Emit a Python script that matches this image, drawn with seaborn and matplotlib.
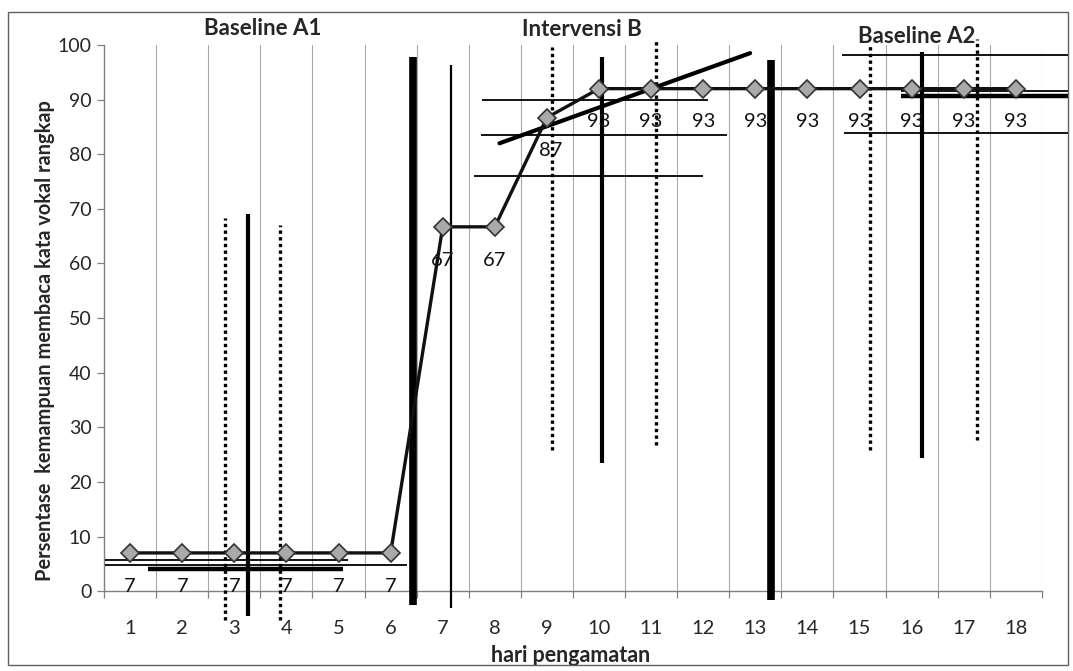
import numpy as np
import matplotlib
matplotlib.use('Agg')
import matplotlib.pyplot as plt
import seaborn as sns
from matplotlib.patches import Rectangle

# observation days and scores (percent)
days = list(range(1, 19))
scores = [7, 7, 7, 7, 7, 7, 66.7, 66.7, 86.7, 92, 92, 92, 92, 92, 92, 92, 92, 92]
point_labels = ['7', '7', '7', '7', '7', '7', '67', '67', '87',
                '93', '93', '93', '93', '93', '93', '93', '93', '93']

phase_names = ['Baseline A1', 'Intervensi B', 'Baseline A2']
phase_name_x = [3.55, 9.68, 16.1]
phase_name_y = [103.1, 102.8, 101.6]

# hand drawn analysis lines (day, percent)
phase_x = [6.42, 13.3]
phase_top = [97.8, 97.3]
phase_bottom = [-2.6, -1.6]

median_x = [3.27, 10.06, 16.2]
median_top = [69, 97.8, 98.7]
median_bottom = [-4.5, 23.4, 24.4]

band_x = [2.83, 3.87, 9.1, 11.1, 15.2, 17.25]
band_top = [68.3, 67, 99.6, 101, 100, 101]
band_bottom = [-5.3, -5.3, 25.8, 26.7, 25.8, 27.6]

thin_v_x = 7.15
thin_v_top = 96.3
thin_v_bottom = -3

thin_h_y = [5.7, 4.7, 89.9, 83.5, 76, 98.2, 83.9, 91.5]
thin_h_start = [0.52, 0.52, 7.76, 7.74, 7.6, 14.66, 14.7, 15.8]
thin_h_end = [5.18, 6.31, 12.1, 12.45, 12.0, 19.0, 19.0, 19.0]

thick_h_y = [4.1, 90.6]
thick_h_start = [1.34, 15.8]
thick_h_end = [5.08, 19.0]

trend_x = [8.09, 12.9]
trend_y = [82, 98.5]

sns.set_style('white')
plt.rcParams['font.family'] = ['Lato', 'DejaVu Sans']

fig = plt.figure(figsize=(10.73, 6.71), dpi=100)
ax = fig.add_axes([0.097, 0.119, 0.874, 0.814])

# vertical grid between days
ax.set_xticks(np.arange(0.5, 19, 1), minor=True)
ax.grid(which='minor', axis='x', color='#a8a8a8', lw=0.8)
ax.grid(which='major', visible=False)

sns.lineplot(x=days, y=scores, ax=ax, color='#111111', lw=2.4, marker='D',
             markersize=9, markerfacecolor='#a9a9a9', markeredgecolor='#333333',
             markeredgewidth=1.2, zorder=5)

for d, s, lab in zip(days, scores, point_labels):
    ax.annotate(lab, (d, s), xytext=(3 if lab == '87' else 0, -24),
                textcoords='offset points', ha='center', va='center',
                fontsize=14.5, color='#111111', zorder=6)

ax.vlines(phase_x, phase_bottom, phase_top, colors='black', lw=5.5, clip_on=False, zorder=4)
ax.vlines(median_x, median_bottom, median_top, colors='black', lw=3, clip_on=False, zorder=4)
ax.vlines(band_x, band_bottom, band_top, colors='black', lw=2.4,
          linestyles=(0, (1, 1)), clip_on=False, zorder=4)
ax.vlines(thin_v_x, thin_v_bottom, thin_v_top, colors='black', lw=1.6, clip_on=False, zorder=4)
ax.hlines(thin_h_y, thin_h_start, thin_h_end, colors='black', lw=1.3, clip_on=False, zorder=4)
ax.hlines(thick_h_y, thick_h_start, thick_h_end, colors='black', lw=3.2, clip_on=False, zorder=4)
ax.plot(trend_x, trend_y, color='black', lw=3, clip_on=False, zorder=4)

for name, px, py in zip(phase_names, phase_name_x, phase_name_y):
    ax.text(px, py, name, ha='center', va='center', fontsize=16,
            fontweight='bold', clip_on=False)

ax.set_xlim(0.5, 18.5)
ax.set_ylim(0, 100)
ax.set_xticks(days)
ax.set_xticklabels([str(d) for d in days])
ax.set_yticks(range(0, 101, 10))
ax.tick_params(axis='x', which='major', length=0, pad=21, labelsize=14.5)
ax.tick_params(axis='x', which='minor', length=5, width=0.9, color='#808080', direction='out')
ax.tick_params(axis='y', which='major', length=5, width=0.9, color='#808080', pad=4, labelsize=14)
ax.tick_params(bottom=True, left=True, which='both')

for side in ['top', 'right']:
    ax.spines[side].set_visible(False)
for side in ['left', 'bottom']:
    ax.spines[side].set_color('#808080')
    ax.spines[side].set_linewidth(1.0)

ax.set_xlabel('hari pengamatan', fontsize=15.5, fontweight='bold')
ax.xaxis.set_label_coords(0.497, -0.099)
ax.set_ylabel('Persentase  kemampuan membaca kata vokal rangkap', fontsize=14.4, fontweight='bold')
ax.yaxis.set_label_coords(-0.052, 0.458)

# scanned chart frame
fig.patches.append(Rectangle((0.0075, 0.009), 0.9875, 0.973, transform=fig.transFigure,
                             fill=False, ec='#606060', lw=1.0))

fig.savefig('out.png', dpi=100)
